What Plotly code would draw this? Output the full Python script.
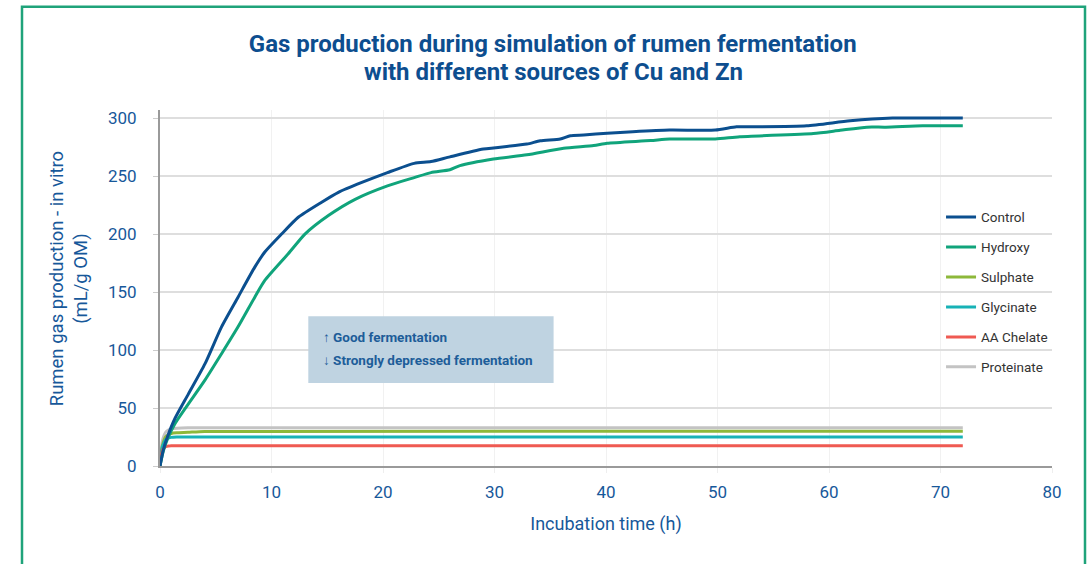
import plotly.graph_objects as go

# ---- data ----
t_control = [0, 0.3, 0.7, 1.34, 2.54, 4.03, 5.52, 7.0, 8.5, 9.4, 10.9, 12.4, 14.5, 16.0, 18.1, 20.4,
             22.8, 24.3, 26.0, 29.0, 32.9, 34.1, 35.9, 36.8, 38.0, 40.1, 42.4, 45.7, 49.8, 51.7,
             52.9, 58.0, 61.9, 65.7, 72.0]
v_control = [0, 14, 26, 41, 62, 88, 120, 145.6, 171.5, 184.5, 200, 214.5, 227.5, 236, 244.5, 253,
             261, 262.5, 266.6, 273.3, 277.6, 280.5, 282, 284.8, 285.4, 287, 288.3, 289.7, 289.7, 292.5,
             292.5, 293.4, 297.7, 300, 300]

t_hydroxy = [0, 0.3, 0.7, 1.34, 4.03, 5.52, 7.0, 8.5, 9.4, 11.5, 13.0, 15.1, 17.5, 20.4, 22.8, 24.3,
             26.0, 26.9, 29.9, 32.9, 36.2, 38.9, 40.1, 44.0, 45.7, 49.8, 52.0, 58.6, 61.0, 63.4,
             65.1, 68.4, 72.0]
v_hydroxy = [0, 13, 24, 36.5, 74, 96.8, 120, 145.6, 160, 183, 200, 216, 230, 241.6, 248.7, 253,
             255.5, 259, 264.7, 268.4, 274, 276.3, 278.3, 280.6, 282, 282, 284, 286.7, 289.5, 292.2,
             292.2, 293.4, 293.4]

t_flat = [0, 0.1, 0.2, 0.35, 0.5, 0.75, 1.0, 1.5, 2.5, 4.0, 72.0]
v_sulphate = [0, 10, 17, 22, 25, 27, 28, 28.6, 29, 29.8, 30]
v_glycinate = [0, 10, 16, 20, 22.5, 24, 24.7, 25, 25, 25, 25]
v_chelate = [0, 8, 13, 15.5, 16.6, 17.2, 17.5, 17.5, 17.5, 17.5, 17.5]
v_proteinate = [0, 13, 21, 26, 29, 31, 32, 32.6, 33, 33, 33]

series = [
    ("Control", t_control, v_control, "#0b4f8f"),
    ("Hydroxy", t_hydroxy, v_hydroxy, "#10a47b"),
    ("Sulphate", t_flat, v_sulphate, "#8db83a"),
    ("Glycinate", t_flat, v_glycinate, "#17b2b6"),
    ("AA Chelate", t_flat, v_chelate, "#ef5a52"),
    ("Proteinate", t_flat, v_proteinate, "#c3c3c3"),
]

x_ticks = [0, 10, 20, 30, 40, 50, 60, 70, 80]
y_ticks = [0, 50, 100, 150, 200, 250, 300]

title_line1 = "Gas production during simulation of rumen fermentation"
title_line2 = "with different sources of Cu and Zn"
y_title = "Rumen gas production - in vitro<br>(mL/g OM)"
x_title = "Incubation time (h)"

FONT = "Roboto"
BLUE = "#17589a"

# plot-area geometry in pixels (for placing text outside the axes)
L, T, B, W, H = 160, 109.5, 98, 892, 356.5


def px(xp):
    return (xp - L) / W


def py(yp):
    return (T + H - yp) / H


fig = go.Figure()
draw_order = [5, 2, 3, 4, 1, 0]
for i in draw_order:
    name, t, v, c = series[i]
    fig.add_trace(go.Scatter(
        x=t, y=v, name=name, mode="lines",
        line=dict(color=c, width=3, shape="spline", smoothing=0.6),
        legendgroup=name, legendrank=i + 1,
    ))

fig.update_layout(
    width=1088, height=564,
    margin=dict(l=L, r=1088 - L - W, t=T, b=B),
    paper_bgcolor="white", plot_bgcolor="white",
    font=dict(family=FONT, color=BLUE, size=16),
    title=dict(
        text="<b>" + title_line1 + "</b>",
        x=0.508, xref="container", xanchor="center",
        y=1 - 44 / 564, yref="container", yanchor="middle",
        font=dict(family=FONT, size=24, color="#0d4e8f"),
    ),
    showlegend=True,
    legend=dict(
        x=0.8756, xanchor="left", y=0.742, yanchor="top",
        bgcolor="rgba(0,0,0,0)",
        font=dict(family=FONT, size=13.5, color="#333333"),
        tracegroupgap=9.4,
        itemwidth=30,
    ),
    xaxis=dict(
        range=[0, 80], tickvals=x_ticks,
        showgrid=True, gridcolor="#f1f1f1", gridwidth=1,
        showline=True, linecolor="#9a9a9a", linewidth=2,
        ticks="outside", ticklen=5, tickcolor="#eeeeee",
        zeroline=False,
        ticklabelstandoff=5,
        tickfont=dict(family=FONT, size=17, color=BLUE),
        title=dict(text=x_title, standoff=16,
                   font=dict(family=FONT, size=18, color=BLUE)),
    ),
    yaxis=dict(
        range=[0, 307], tickvals=y_ticks,
        showgrid=True, gridcolor="#dedede", gridwidth=1.5,
        showline=True, linecolor="#9a9a9a", linewidth=2,
        ticks="outside", ticklen=5, tickcolor="#cccccc",
        zeroline=False,
        ticklabelstandoff=13,
        tickfont=dict(family=FONT, size=17, color=BLUE),
    ),
    shapes=[
        dict(type="rect", xref="paper", yref="paper",
             x0=px(22), x1=px(1085), y0=-1, y1=py(6),
             line=dict(color="#1fa37a", width=2.5), fillcolor="rgba(0,0,0,0)", layer="below"),
        dict(type="rect", xref="x", yref="y", x0=13.3, x1=35.3, y0=71.5, y1=129.2,
             fillcolor="#bfd3e1", line=dict(width=0), layer="above"),
    ],
    annotations=[
        dict(xref="paper", yref="paper", x=px(553), y=py(71), xanchor="center", yanchor="middle",
             text="<b>" + title_line2 + "</b>", showarrow=False,
             font=dict(family=FONT, size=24, color="#0d4e8f")),
        dict(xref="paper", yref="paper", x=px(69), y=py(279), xanchor="center", yanchor="middle",
             text=y_title, textangle=-90, showarrow=False,
             font=dict(family=FONT, size=18.5, color=BLUE)),
        dict(xref="x", yref="y", x=14.4, y=111.5, xanchor="left", yanchor="middle",
             text="<b>↑ Good fermentation</b>", showarrow=False,
             font=dict(family=FONT, size=13.5, color="#1d5d99")),
        dict(xref="x", yref="y", x=14.4, y=91.5, xanchor="left", yanchor="middle",
             text="<b>↓ Strongly depressed fermentation</b>", showarrow=False,
             font=dict(family=FONT, size=13.5, color="#1d5d99")),
    ],
)

fig.write_html("out.html",
               config={"displayModeBar": False},
               post_script="document.body.style.margin='0';document.body.style.padding='0';")
